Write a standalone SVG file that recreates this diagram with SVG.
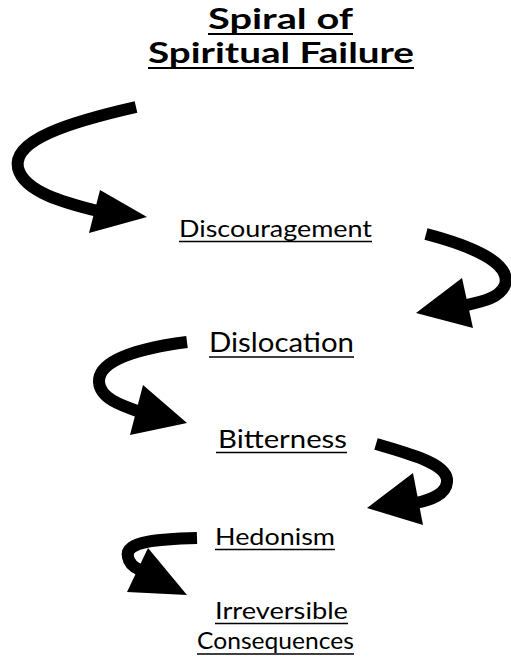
<svg xmlns="http://www.w3.org/2000/svg" width="511" height="659" viewBox="0 0 511 659">
<style>
.t{font-family:Lato,"Open Sans","Liberation Sans",sans-serif;fill:#000}
.h{font-weight:bold;font-size:28px}
.u{stroke:#000;stroke-width:1.6}
.uh{stroke:#000;stroke-width:2.2}
.a{fill:none;stroke:#000;stroke-width:12}
.hd{fill:#000}
</style>
<rect width="511" height="659" fill="#fff"/>
<g id="title">
<text class="t h" x="208" y="29" textLength="145" lengthAdjust="spacingAndGlyphs">Spiral of</text>
<line class="uh" x1="208" y1="34" x2="353" y2="34"/>
<text class="t h" x="148" y="63" textLength="266" lengthAdjust="spacingAndGlyphs">Spiritual Failure</text>
<line class="uh" x1="148" y1="68" x2="414" y2="68"/>
</g>
<g id="connectors">
<path class="a" d="M136,107 C70,122 12,140 18,168 C24,192 65,203 98,211"/>
<polygon class="hd" points="100,190 89,233 147,217"/>
<path class="a" d="M426,234 C468,245 512,262 505,285 C499,299 480,302 462,306"/>
<polygon class="hd" points="462,278 416,313 473,328"/>
<path class="a" d="M187,342 C140,348 98,360 99,382 C100,398 120,405 140,412"/>
<polygon class="hd" points="143,385 130,435 187,423"/>
<path class="a" d="M376,444 C410,454 449,464 447,482 C446,495 430,500 416,503"/>
<polygon class="hd" points="413,473 367,508 423,525"/>
<path class="a" d="M197,538 C160,539 124,541 128,557 C129,563 133,567 140,570"/>
<polygon class="hd" points="148,548 127,592 187,595"/>
</g>
<g id="discouragement">
<text class="t" style="font-size:24px" x="179" y="237" textLength="193" lengthAdjust="spacingAndGlyphs">Discouragement</text>
<line class="u" x1="179" y1="241.5" x2="372" y2="241.5"/>
</g>
<g id="dislocation">
<text class="t" style="font-size:27px" x="209" y="352" textLength="145" lengthAdjust="spacingAndGlyphs">Dislocation</text>
<line class="u" x1="209" y1="357" x2="354" y2="357"/>
</g>
<g id="bitterness">
<text class="t" style="font-size:25px" x="218" y="448" textLength="129" lengthAdjust="spacingAndGlyphs">Bitterness</text>
<line class="u" x1="216" y1="452.5" x2="347" y2="452.5"/>
</g>
<g id="hedonism">
<text class="t" style="font-size:24px" x="215" y="545" textLength="120" lengthAdjust="spacingAndGlyphs">Hedonism</text>
<line class="u" x1="215" y1="549.5" x2="335" y2="549.5"/>
</g>
<g id="consequences">
<text class="t" style="font-size:24px" x="215" y="619" textLength="133" lengthAdjust="spacingAndGlyphs">Irreversible</text>
<line class="u" x1="215" y1="623.5" x2="348" y2="623.5"/>
<text class="t" style="font-size:24px" x="197" y="649" textLength="157" lengthAdjust="spacingAndGlyphs">Consequences</text>
<line class="u" x1="197" y1="654" x2="354" y2="654"/>
</g>
</svg>
